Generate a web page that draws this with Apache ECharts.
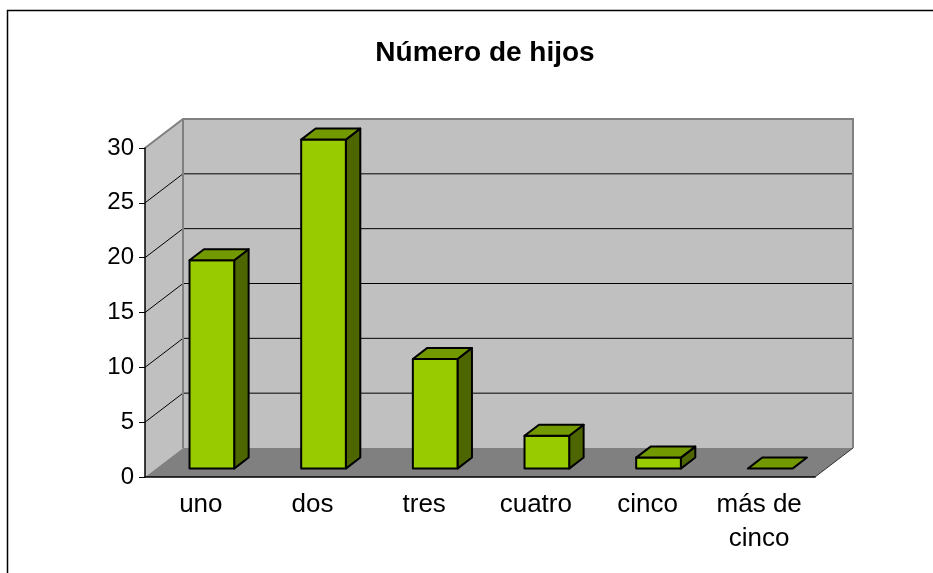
<!DOCTYPE html>
<html>
<head>
<meta charset="utf-8">
<script src="https://cdn.jsdelivr.net/npm/echarts@6/dist/echarts.min.js"></script>
<style>
  html, body { margin: 0; padding: 0; background: #fff; }
  #chart { width: 933px; height: 573px; }
</style>
</head>
<body>
<div id="chart"></div>
<script>
const categories = ['uno', 'dos', 'tres', 'cuatro', 'cinco', 'más de\ncinco']
const hijos = [19, 30, 10, 3, 1, 0]
const yTicks = [0, 5, 10, 15, 20, 25, 30]

// depth of the 3D box (px)
const DX = 38
const DY = -29

const chart = echarts.init(document.getElementById('chart'))

const renderWalls = (params, api) => {
  const cs = params.coordSys
  const x0 = cs.x
  const x1 = cs.x + cs.width
  const yBot = api.coord([0, 0])[1]
  const yTop = api.coord([0, 30])[1]
  const children = []
  // back wall
  children.push({
    type: 'rect',
    shape: { x: x0 + DX, y: yTop + DY, width: x1 - x0, height: yBot - yTop },
    style: { fill: '#C0C0C0', stroke: null }
  })
  // left wall
  children.push({
    type: 'polygon',
    shape: { points: [[x0, yBot], [x0, yTop], [x0 + DX, yTop + DY], [x0 + DX, yBot + DY]] },
    style: { fill: '#C0C0C0', stroke: null }
  })
  // floor
  children.push({
    type: 'polygon',
    shape: { points: [[x0, yBot], [x1, yBot], [x1 + DX, yBot + DY], [x0 + DX, yBot + DY]] },
    style: { fill: '#808080', stroke: null }
  })
  // gridlines
  yTicks.forEach(v => {
    if (v === 0 || v === 30) return
    const y = api.coord([0, v])[1]
    children.push({
      type: 'polyline',
      shape: { points: [[x0, y], [x0 + DX, y + DY], [x1 + DX, y + DY]] },
      style: { stroke: '#000', lineWidth: 1, fill: null }
    })
  })
  // wall edges
  children.push({
    type: 'polyline',
    shape: { points: [[x0, yTop], [x0 + DX, yTop + DY], [x1 + DX, yTop + DY], [x1 + DX, yBot + DY]] },
    style: { stroke: '#808080', lineWidth: 2, fill: null }
  })
  children.push({
    type: 'line',
    shape: { x1: x0 + DX, y1: yTop + DY, x2: x0 + DX, y2: yBot + DY },
    style: { stroke: '#808080', lineWidth: 2 }
  })
  children.push({
    type: 'line',
    shape: { x1: x1, y1: yBot, x2: x1 + DX, y2: yBot + DY },
    style: { stroke: '#333', lineWidth: 1 }
  })
  return { type: 'group', children }
}

const renderBar = (params, api) => {
  const idx = api.value(0)
  const val = api.value(1)
  const band = api.size([1, 0])[0]
  const base = api.coord([idx, 0])
  const top = api.coord([idx, val])
  const w = band * 0.4
  const f1 = 0.29
  const f2 = 0.67
  const ox = DX * f1, oy = DY * f1
  const dx = DX * (f2 - f1), dy = DY * (f2 - f1)
  const xl = base[0] - w / 2 + ox
  const xr = base[0] + w / 2 + ox
  const yb = base[1] + oy
  const yt = top[1] + oy
  const st = { stroke: '#000', lineWidth: 2, lineJoin: 'round' }
  const children = []
  if (yb - yt > 0.5) {
    children.push({
      type: 'polygon',
      shape: { points: [[xr, yb], [xr + dx, yb + dy], [xr + dx, yt + dy], [xr, yt]] },
      style: Object.assign({ fill: '#4D6600' }, st)
    })
    children.push({
      type: 'rect',
      shape: { x: xl, y: yt, width: w, height: yb - yt },
      style: Object.assign({ fill: '#99CC00' }, st)
    })
  }
  children.push({
    type: 'polygon',
    shape: { points: [[xl, yt], [xr, yt], [xr + dx, yt + dy], [xl + dx, yt + dy]] },
    style: Object.assign({ fill: '#739900' }, st)
  })
  return { type: 'group', children }
}

const option = {
  animation: false,
  textStyle: { fontFamily: 'Liberation Sans, Arial, sans-serif' },
  title: {
    text: 'Número de hijos',
    left: 480,
    textAlign: 'center',
    top: 34,
    textStyle: { fontSize: 28, fontWeight: 'bold', color: '#000', fontFamily: 'Liberation Sans, Arial, sans-serif' }
  },
  graphic: [{
    type: 'rect',
    shape: { x: 7.5, y: 10.5, width: 1000, height: 1000 },
    style: { fill: null, stroke: '#000', lineWidth: 1.5 },
    z: 100
  }],
  grid: { left: 145, right: 118, top: 148, height: 329 },
  xAxis: {
    type: 'category',
    data: categories,
    z: 5,
    axisLine: { lineStyle: { color: '#000', width: 1.5 } },
    axisTick: { length: 6, lineStyle: { color: '#000' } },
    axisLabel: { color: '#000', fontSize: 26, margin: 11, lineHeight: 34, interval: 0 },
    splitLine: { show: false }
  },
  yAxis: {
    type: 'value',
    min: 0,
    max: 30,
    interval: 5,
    z: 5,
    axisLine: { show: true, lineStyle: { color: '#000', width: 1.5 } },
    axisTick: { show: true, length: 6, lineStyle: { color: '#000' } },
    axisLabel: { color: '#000', fontSize: 24, margin: 11 },
    splitLine: { show: false }
  },
  series: [
    {
      type: 'custom',
      renderItem: renderWalls,
      data: [[0, 0]],
      clip: false,
      z: 1,
      silent: true
    },
    {
      type: 'custom',
      renderItem: renderBar,
      data: hijos.map((v, i) => [i, v]),
      clip: false,
      z: 3
    }
  ]
}

chart.setOption(option)
</script>
</body>
</html>
